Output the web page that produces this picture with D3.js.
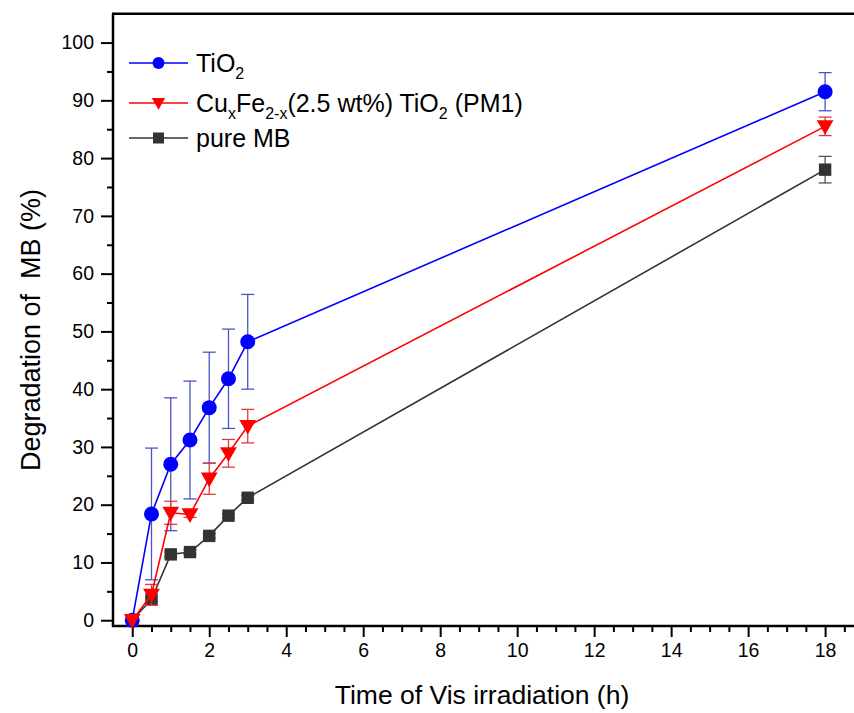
<!DOCTYPE html>
<html>
<head>
<meta charset="utf-8">
<script src="https://cdn.jsdelivr.net/npm/d3@7"></script>
<style>
  html, body { margin: 0; padding: 0; background: #ffffff; }
  svg { display: block; }
  text { font-family: "Liberation Sans", Arial, sans-serif; fill: #000; }
</style>
</head>
<body>
<svg id="chart" width="854" height="713"></svg>
<script>
// ---- data ----
const times = [0, 0.5, 1, 1.5, 2, 2.5, 3, 18];
const tio2Values = [0, 18.4, 27.0, 31.2, 36.8, 41.8, 48.2, 91.5];
const tio2Errors = [0, 11.4, 11.5, 10.2, 9.6, 8.6, 8.2, 3.3];
const pm1Values = [0, 4.4, 18.6, 18.3, 24.5, 28.9, 33.6, 85.5];
const pm1Errors = [0, 1.8, 2.0, 0.5, 2.7, 2.4, 2.9, 1.6];
const mbValues = [0, 3.6, 11.4, 11.8, 14.6, 18.1, 21.2, 78.0];
const mbErrors = [0, 0.4, 0.4, 0.4, 0.4, 0.4, 0.4, 2.3];
const xTicks = [0, 2, 4, 6, 8, 10, 12, 14, 16, 18];
const yTicks = [0, 10, 20, 30, 40, 50, 60, 70, 80, 90, 100];
const seriesNames = ["TiO2", "CuxFe2-x(2.5 wt%) TiO2 (PM1)", "pure MB"];

(function () {
const svg = d3.select("#chart");
const L = 113, R = 863.6, T = 13.7, B = 626;
const x = d3.scaleLinear().domain([-0.5, 19]).range([L, R]);
const y = d3.scaleLinear().domain([-1, 105]).range([B, T]);

// ---- axes ----
const xMinor = d3.range(0.5, 19.01, 0.5).filter(v => v % 2 !== 0);
const yMinor = d3.range(5, 105, 10);

const gx = svg.append("g").attr("transform", `translate(0,${B})`);
gx.call(d3.axisBottom(x).tickValues(xTicks).tickSize(11).tickSizeOuter(0).tickPadding(6).tickFormat(d3.format("d")));
gx.append("g").call(d3.axisBottom(x).tickValues(xMinor).tickSize(6).tickSizeOuter(0).tickFormat(""));
const gy = svg.append("g").attr("transform", `translate(${L},0)`);
gy.call(d3.axisLeft(y).tickValues(yTicks).tickSize(12).tickSizeOuter(0).tickPadding(7).tickFormat(d3.format("d")));
gy.append("g").call(d3.axisLeft(y).tickValues(yMinor).tickSize(6).tickSizeOuter(0).tickFormat(""));
svg.selectAll(".domain").remove();
svg.selectAll(".tick line").attr("stroke", "#000").attr("stroke-width", 2);
svg.selectAll(".tick text").style("font-size", "19.5px").style("font-family", "'Liberation Sans', Arial, sans-serif");

// frame lines
svg.append("line").attr("x1", L).attr("x2", L).attr("y1", T).attr("y2", B + 1).attr("stroke", "#000").attr("stroke-width", 2.5);
svg.append("line").attr("x1", L - 1).attr("x2", R).attr("y1", B).attr("y2", B).attr("stroke", "#000").attr("stroke-width", 2.5);
svg.append("line").attr("x1", L - 1).attr("x2", R).attr("y1", T).attr("y2", T).attr("stroke", "#000").attr("stroke-width", 2.5);
svg.append("line").attr("x1", R).attr("x2", R).attr("y1", T).attr("y2", B).attr("stroke", "#000").attr("stroke-width", 2.5);

// axis titles
svg.append("text").attr("x", 482).attr("y", 704).attr("text-anchor", "middle")
  .style("font-size", "26.5px").text("Time of Vis irradiation (h)");
svg.append("text").attr("transform", "translate(40,330) rotate(-90)").attr("text-anchor", "middle")
  .style("font-size", "27px").style("white-space", "pre").text("Degradation of  MB (%)");

// ---- series ----
const series = [
  { name: seriesNames[2], vals: mbValues, errs: mbErrors, color: "#333333", err: "#555555", shape: "square" },
  { name: seriesNames[0], vals: tio2Values, errs: tio2Errors, color: "#0000ff", err: "#4b55c8", shape: "circle" },
  { name: seriesNames[1], vals: pm1Values, errs: pm1Errors, color: "#ff0000", err: "#e23a3a", shape: "triangle" }
];

function marker(g, shape, cx, cy, s, color) {
  if (shape === "circle") {
    g.append("circle").attr("cx", cx).attr("cy", cy).attr("r", s).attr("fill", color);
  } else if (shape === "square") {
    g.append("rect").attr("x", cx - s).attr("y", cy - s).attr("width", 2 * s).attr("height", 2 * s).attr("fill", color);
  } else {
    const h = s * 1.95, w = s * 1.12;
    g.append("path").attr("d", `M${cx - w},${cy - h * 0.42}L${cx + w},${cy - h * 0.42}L${cx},${cy + h * 0.58}Z`).attr("fill", color);
  }
}

const line = d3.line().x(d => x(d[0])).y(d => y(d[1]));
series.forEach(s => {
  const g = svg.append("g");
  const pts = times.map((t, i) => [t, s.vals[i], s.errs[i]]);
  pts.forEach(p => {
    if (p[2] <= 0) return;
    const cx = x(p[0]), y1 = y(p[1] + p[2]), y2 = y(p[1] - p[2]);
    g.append("line").attr("x1", cx).attr("x2", cx).attr("y1", y1).attr("y2", y2).attr("stroke", s.err).attr("stroke-width", 1.3);
    g.append("line").attr("x1", cx - 6.5).attr("x2", cx + 6.5).attr("y1", y1).attr("y2", y1).attr("stroke", s.err).attr("stroke-width", 1.3);
    g.append("line").attr("x1", cx - 6.5).attr("x2", cx + 6.5).attr("y1", y2).attr("y2", y2).attr("stroke", s.err).attr("stroke-width", 1.3);
  });
  g.append("path").datum(pts).attr("d", line).attr("fill", "none").attr("stroke", s.color).attr("stroke-width", 1.6);
  pts.forEach(p => marker(g, s.shape, x(p[0]), y(p[1]), s.shape === "square" ? 6.2 : 7.5, s.color));
});

// ---- legend ----
const legendRows = [
  { s: series[1], y: 63 },
  { s: series[2], y: 103 },
  { s: series[0], y: 138 }
];
legendRows.forEach(r => {
  const g = svg.append("g");
  g.append("line").attr("x1", 129).attr("x2", 188).attr("y1", r.y).attr("y2", r.y).attr("stroke", r.s.color).attr("stroke-width", 1.6);
  marker(g, r.s.shape, 158.5, r.y, r.s.shape === "square" ? 5.5 : 6, r.s.color);
});
function legendText(yPos, parts) {
  const t = svg.append("text").attr("x", 196).attr("y", yPos + 9).style("font-size", "25px");
  let sub = false;
  parts.forEach(p => {
    const ts = t.append("tspan").text(p[0]);
    if (p[1] && !sub) { ts.attr("dy", 7).style("font-size", "16px"); sub = true; }
    else if (p[1] && sub) { ts.style("font-size", "16px"); }
    else if (!p[1] && sub) { ts.attr("dy", -7); sub = false; }
  });
}
legendText(63, [["TiO", false], ["2", true]]);
legendText(103, [["Cu", false], ["x", true], ["Fe", false], ["2-x", true], ["(2.5 wt%) TiO", false], ["2", true], [" (PM1)", false]]);
legendText(138, [["pure MB", false]]);
})();
</script>
</body>
</html>
